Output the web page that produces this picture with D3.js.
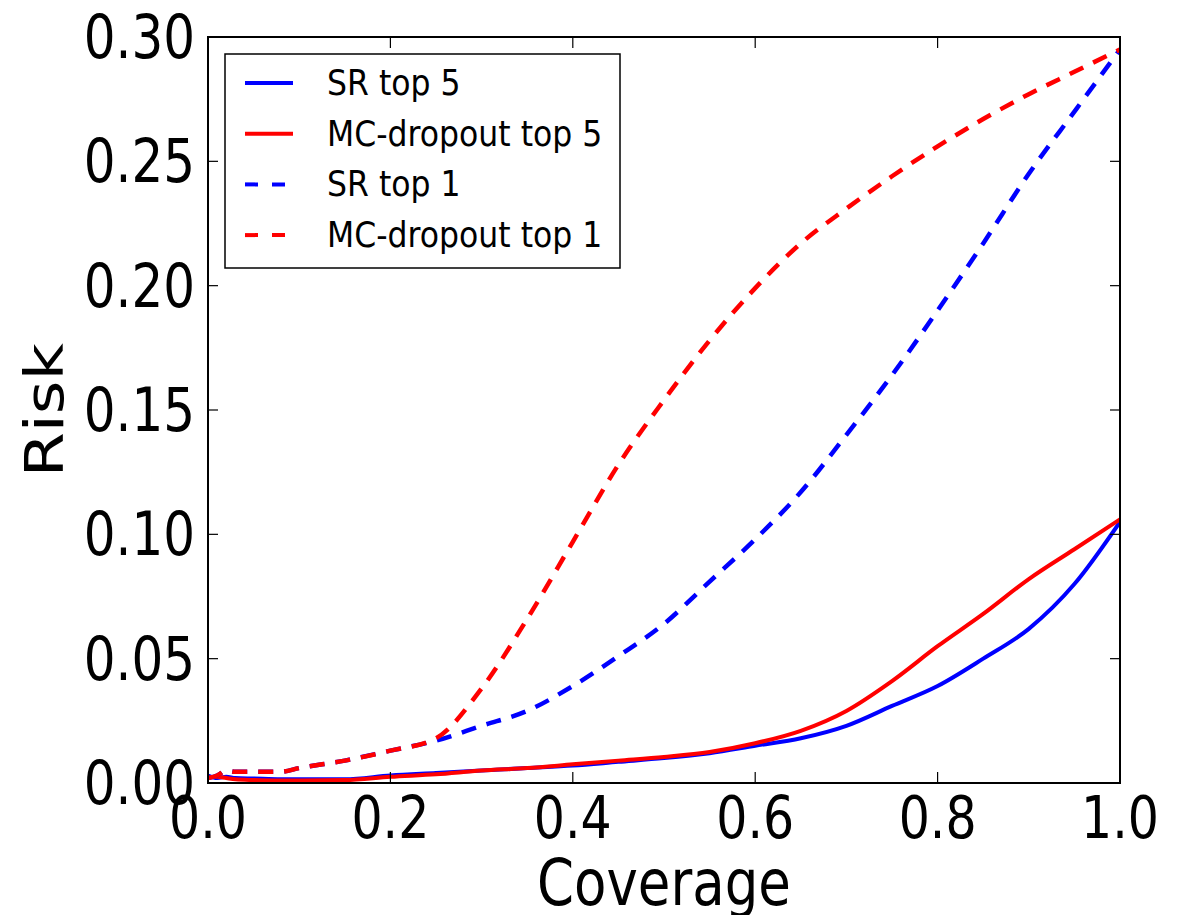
<!DOCTYPE html>
<html>
<head>
<meta charset="utf-8">
<script src="https://cdn.jsdelivr.net/npm/d3@7"></script>
<style>
  body { margin: 0; background: #fff; }
  text { font-family: "DejaVu Sans", sans-serif; }
</style>
</head>
<body>
<script>
// data
var coverage = [0, 0.01, 0.02, 0.03, 0.05, 0.08, 0.1, 0.15, 0.2, 0.25, 0.3, 0.35, 0.4,
    0.45, 0.5, 0.55, 0.6, 0.65, 0.7, 0.75, 0.8, 0.85, 0.9, 0.95, 1.0];
var srTop5 = [0.003, 0.002, 0.0025, 0.002, 0.0018, 0.0015, 0.0015, 0.0015, 0.003, 0.004, 0.005, 0.006, 0.007,
    0.0085, 0.01, 0.012, 0.015, 0.018, 0.023, 0.031, 0.039, 0.050, 0.062, 0.080, 0.105];
var mcTop5 = [0.002, 0.0025, 0.002, 0.0015, 0.0012, 0.001, 0.001, 0.0012, 0.0025, 0.0035, 0.005, 0.006, 0.0075,
    0.009, 0.0105, 0.0125, 0.016, 0.021, 0.029, 0.041, 0.055, 0.068, 0.082, 0.094, 0.106];
var srTop1 = [0.002, 0.003, 0.005, 0.0045, 0.0045, 0.0045, 0.006, 0.009, 0.013, 0.017, 0.023, 0.029, 0.039,
    0.051, 0.064, 0.081, 0.098, 0.117, 0.140, 0.164, 0.19, 0.217, 0.245, 0.27, 0.295];
var mcTop1 = [0.002, 0.003, 0.005, 0.0045, 0.0045, 0.0045, 0.006, 0.009, 0.013, 0.018, 0.038, 0.066, 0.097,
    0.128, 0.154, 0.178, 0.199, 0.217, 0.231, 0.244, 0.256, 0.267, 0.277, 0.286, 0.295];

var seriesNames = ["SR top 5", "MC-dropout top 5", "SR top 1", "MC-dropout top 1"];
var seriesValues = [srTop5, mcTop5, srTop1, mcTop1];
var seriesColors = ["#0000ff", "#ff0000", "#0000ff", "#ff0000"];
var seriesDashed = [false, false, true, true];

var xTicks = [0, 0.2, 0.4, 0.6, 0.8, 1.0];
var yTicks = [0, 0.05, 0.10, 0.15, 0.20, 0.25, 0.30];

var sy = 1.2; // picture is stretched vertically

var svg = d3.select("body")
    .append("svg")
    .attr("width", 1187)
    .attr("height", 915);

var x = d3.scaleLinear().domain([0, 1]).range([208, 1120]);
var y = d3.scaleLinear().domain([0, 0.3]).range([783, 37]);

// lines
var line = d3.line()
    .x(function (d) { return x(d[0]); })
    .y(function (d) { return y(d[1]); })
    .curve(d3.curveMonotoneX);

svg.append("defs").append("clipPath").attr("id", "clip")
    .append("rect")
    .attr("x", 208).attr("y", 37)
    .attr("width", 912).attr("height", 746);

seriesValues.forEach(function (vals, i) {
    svg.append("path")
        .datum(coverage.map(function (c, j) { return [c, vals[j]]; }))
        .attr("clip-path", "url(#clip)")
        .attr("d", line)
        .attr("fill", "none")
        .attr("stroke", seriesColors[i])
        .attr("stroke-width", seriesDashed[i] ? 4.5 : 4)
        .attr("stroke-dasharray", seriesDashed[i] ? "15,11" : null)
        .attr("stroke-linejoin", "round");
});

// frame
svg.append("rect")
    .attr("x", 208).attr("y", 37)
    .attr("width", 912).attr("height", 746)
    .attr("fill", "none")
    .attr("stroke", "#000")
    .attr("stroke-width", 2);

// inside ticks on all sides (matplotlib classic)
xTicks.forEach(function (t) {
    svg.append("line").attr("x1", x(t)).attr("x2", x(t)).attr("y1", 783).attr("y2", 772)
        .attr("stroke", "#000").attr("stroke-width", 1.2);
    svg.append("line").attr("x1", x(t)).attr("x2", x(t)).attr("y1", 37).attr("y2", 48)
        .attr("stroke", "#000").attr("stroke-width", 1.2);
    svg.append("text")
        .attr("transform", "translate(" + x(t) + ",838) scale(1," + sy + ")")
        .attr("text-anchor", "middle")
        .attr("font-size", 49)
        .text(d3.format(".1f")(t));
});

yTicks.forEach(function (t) {
    svg.append("line").attr("x1", 208).attr("x2", 218).attr("y1", y(t)).attr("y2", y(t))
        .attr("stroke", "#000").attr("stroke-width", 1.2);
    svg.append("line").attr("x1", 1120).attr("x2", 1110).attr("y1", y(t)).attr("y2", y(t))
        .attr("stroke", "#000").attr("stroke-width", 1.2);
    svg.append("text")
        .attr("transform", "translate(195," + (y(t) + 21) + ") scale(1," + sy + ")")
        .attr("text-anchor", "end")
        .attr("font-size", 50)
        .text(d3.format(".2f")(t));
});

// axis titles
svg.append("text")
    .attr("transform", "translate(664,905) scale(1," + sy + ")")
    .attr("text-anchor", "middle")
    .attr("font-size", 53)
    .text("Coverage");

svg.append("text")
    .attr("transform", "translate(63,410) rotate(-90) scale(" + sy + ",1)")
    .attr("text-anchor", "middle")
    .attr("font-size", 54)
    .text("Risk");

// legend
var legend = svg.append("g");
legend.append("rect")
    .attr("x", 225).attr("y", 54)
    .attr("width", 395).attr("height", 214)
    .attr("fill", "#fff")
    .attr("stroke", "#000")
    .attr("stroke-width", 1.5);

seriesNames.forEach(function (name, i) {
    var ly = 83 + i * 50.7;
    legend.append("line")
        .attr("x1", 245).attr("x2", 293)
        .attr("y1", ly).attr("y2", ly)
        .attr("stroke", seriesColors[i])
        .attr("stroke-width", 4)
        .attr("stroke-dasharray", seriesDashed[i] ? "13,14" : null);
    legend.append("text")
        .attr("transform", "translate(327," + (ly + 12) + ") scale(1,1.1)")
        .attr("font-size", 31.5)
        .text(name);
});
</script>
</body>
</html>
